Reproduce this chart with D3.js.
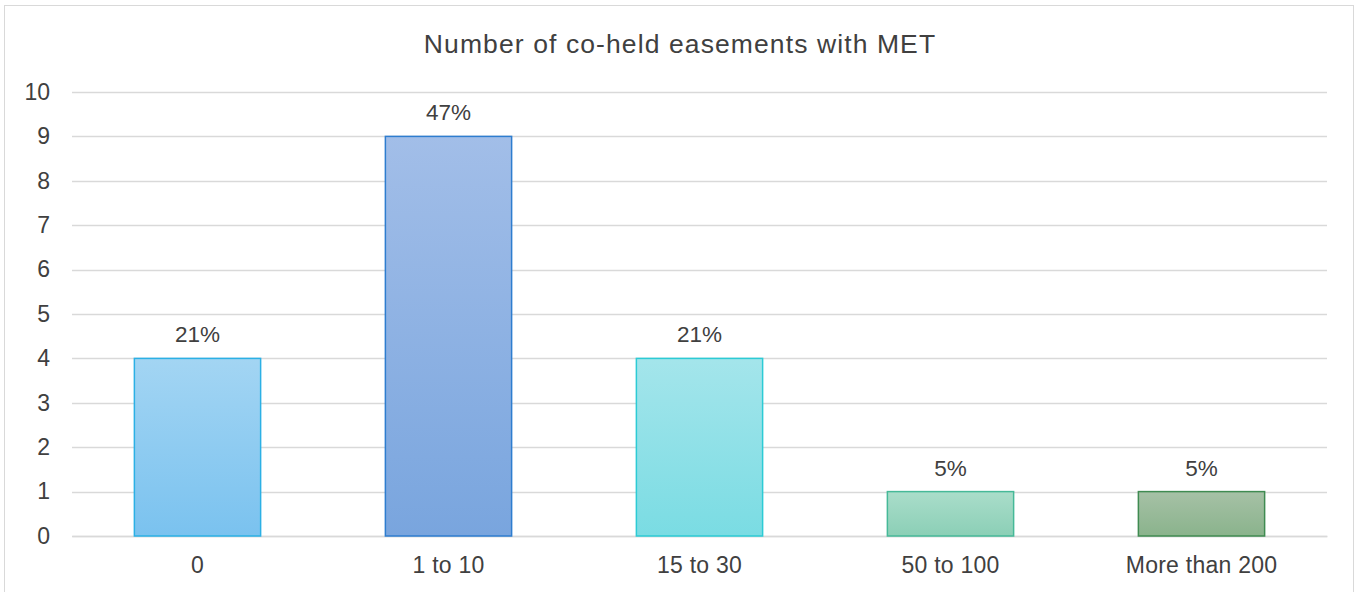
<!DOCTYPE html>
<html>
<head>
<meta charset="utf-8">
<script src="https://cdn.jsdelivr.net/npm/d3@7"></script>
<style>
  body { margin: 0; background: #fff; }
  svg { display: block; font-family: "Liberation Sans", Arial, sans-serif; }
</style>
</head>
<body>
<div id="chart"></div>
<script>
// donnees du graphique
const categories = ["0", "1 to 10", "15 to 30", "50 to 100", "More than 200"];
const valeurs = [4, 9, 4, 1, 1];
const yTicks = [0, 1, 2, 3, 4, 5, 6, 7, 8, 9, 10];

const couleursHaut = ["#a3d5f3", "#a2bee8", "#a4e5eb", "#aaddca", "#a6c1a6"];
const couleursBas = ["#7ac2ef", "#79a5de", "#7adce3", "#8bcfb6", "#8ab38c"];
const bordures = ["#2bb0e5", "#2e7dcf", "#2ccbd5", "#46b998", "#3f8b51"];

const width = 1358, height = 592;
const margin = {left: 72, right: 31, top: 92, bottom: 56};

const svg = d3.select("#chart").append("svg")
    .attr("width", width)
    .attr("height", height);

// cadre
svg.append("rect")
    .attr("x", 4.5).attr("y", 5.5)
    .attr("width", width - 9).attr("height", height + 10)
    .attr("fill", "#fff")
    .attr("stroke", "#d9d9d9");

const x = d3.scaleBand()
    .domain(categories)
    .range([margin.left, width - margin.right])
    .paddingInner(0.497)
    .paddingOuter(0.2485);

const y = d3.scaleLinear()
    .domain([0, 10])
    .range([height - margin.bottom, margin.top]);

// degradés
const defs = svg.append("defs");
categories.forEach((c, i) => {
    const g = defs.append("linearGradient")
        .attr("id", "grad" + i)
        .attr("x1", 0).attr("y1", 0).attr("x2", 0).attr("y2", 1);
    g.append("stop").attr("offset", "0%").attr("stop-color", couleursHaut[i]);
    g.append("stop").attr("offset", "100%").attr("stop-color", couleursBas[i]);
});

// grille
svg.append("g")
    .selectAll("line")
    .data(yTicks)
    .enter()
    .append("line")
    .attr("x1", margin.left)
    .attr("x2", width - margin.right)
    .attr("y1", d => Math.round(y(d)) + 0.5)
    .attr("y2", d => Math.round(y(d)) + 0.5)
    .attr("stroke", "#d9d9d9")
    .attr("stroke-width", 1.5);

// axe Y
const axeY = svg.append("g")
    .attr("transform", `translate(${margin.left},0)`)
    .call(d3.axisLeft(y).tickValues(yTicks).tickSize(0).tickPadding(22));
axeY.select(".domain").remove();
axeY.selectAll("text")
    .style("font-size", "23px")
    .attr("fill", "#404040");

// axe X
const axeX = svg.append("g")
    .attr("transform", `translate(0,${height - margin.bottom})`)
    .call(d3.axisBottom(x).tickSize(0).tickPadding(21));
axeX.select(".domain").attr("stroke", "#d9d9d9").attr("stroke-width", 1.5);
axeX.selectAll("text")
    .style("font-size", "23px")
    .style("letter-spacing", "0.25px")
    .attr("fill", "#404040");

// barres
svg.selectAll(".bar")
    .data(valeurs)
    .enter()
    .append("rect")
    .attr("class", "bar")
    .attr("x", (d, i) => x(categories[i]))
    .attr("y", d => y(d))
    .attr("width", x.bandwidth())
    .attr("height", d => y(0) - y(d))
    .attr("fill", (d, i) => `url(#grad${i})`)
    .attr("stroke", (d, i) => bordures[i])
    .attr("stroke-width", 1.5);

// etiquettes en pourcentage
const total = d3.sum(valeurs);
const fmt = d3.format(".0%");
svg.selectAll(".etiquette")
    .data(valeurs)
    .enter()
    .append("text")
    .attr("class", "etiquette")
    .attr("x", (d, i) => x(categories[i]) + x.bandwidth() / 2)
    .attr("y", d => y(d) - 16)
    .attr("text-anchor", "middle")
    .style("font-size", "22.5px")
    .attr("fill", "#404040")
    .text(d => fmt(d / total));

// titre
svg.append("text")
    .attr("x", 680)
    .attr("y", 53)
    .attr("text-anchor", "middle")
    .style("font-size", "26.5px")
    .style("letter-spacing", "1.1px")
    .attr("fill", "#404040")
    .text("Number of co-held easements with MET");
</script>
</body>
</html>
